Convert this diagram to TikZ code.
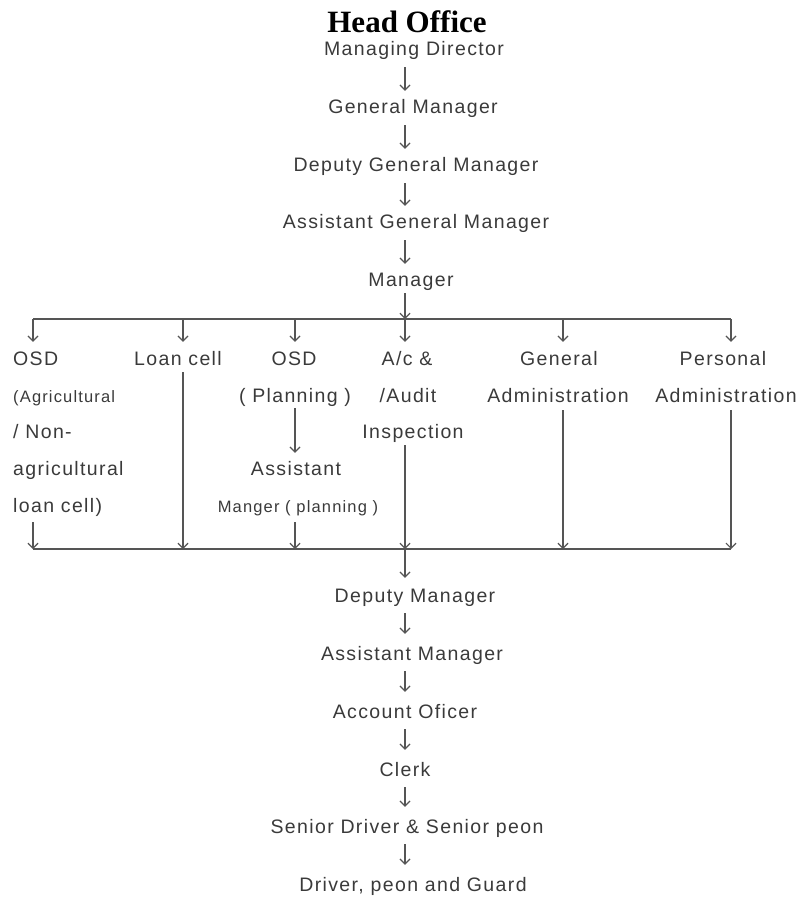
\documentclass[tikz,border=0pt]{standalone}
\usepackage{fontspec}
\usetikzlibrary{arrows.meta,calc}
\newfontfamily\orgfont[LetterSpace=7]{Liberation Sans}
\newfontfamily\headfont{Liberation Serif}
\definecolor{tc}{RGB}{58,58,58}
\definecolor{lc}{RGB}{85,85,85}
\tikzset{
  txt/.style={font=\orgfont\fontsize{19.5}{22}\selectfont, text=tc, inner sep=0pt, anchor=base, text height=14.5pt, text depth=4.5pt},
  smalltxt/.style={txt, font=\orgfont\fontsize{16.5}{19}\selectfont},
  ltxt/.style={txt, anchor=base west},
  lsmall/.style={smalltxt, anchor=base west},
  arr/.style={draw=lc, line width=1.2pt, -{Straight Barb[length=5pt,width=10pt,line width=1.2pt]}},
  bus/.style={draw=lc, line width=1.6pt},
  upar/.style={arr, shorten <=7.5pt, shorten >=7.5pt},
  loar/.style={arr, shorten <=6.5pt, shorten >=11.5pt}
}
\begin{document}
\begin{tikzpicture}[x=1pt,y=-1pt]
\useasboundingbox (0,0) rectangle (801,897);
\coordinate (sp) at (405,0);
% title
\node[inner sep=0pt, anchor=base, font=\headfont\bfseries\fontsize{31}{34}\selectfont] (head) at (407,32) {Head Office};
% upper chain
\node[txt] (md)  at (414,55)  {Managing Director};
\node[txt] (gm)  at (413,113) {General Manager};
\node[txt] (dgm) at (416,171) {Deputy General Manager};
\node[txt] (agm) at (416,228) {Assistant General Manager};
\node[txt] (mgr) at (411,286) {Manager};
\draw[upar] (md.south -| sp) -- (gm.north -| sp);
\draw[upar] (gm.south -| sp) -- (dgm.north -| sp);
\draw[upar] (dgm.south -| sp) -- (agm.north -| sp);
\draw[upar] (agm.south -| sp) -- (mgr.north -| sp);
% top bus
\coordinate (b1) at (33,319);
\coordinate (b2) at (183,319);
\coordinate (b3) at (295,319);
\coordinate (b4) at (405,319);
\coordinate (b5) at (563,319);
\coordinate (b6) at (731,319);
\draw[bus] (b1) -- (b6);
\draw[arr, shorten <=2.5pt] (mgr.south -| sp) -- (b4);
% departments
\node[ltxt]   (osd1) at (13,365) {OSD};
\node[lsmall] (ag)   at (13,402) {(Agricultural};
\node[ltxt]   (non)  at (13,438) {/ Non-};
\node[ltxt]   (agri) at (13,475) {agricultural};
\node[ltxt]   (lc1)  at (13,512) {loan cell)};
\node[txt] (loan) at (178,365) {Loan cell};
\node[txt] (osd2) at (294,365) {OSD};
\node[txt] (plan) at (295,402) {( Planning )};
\node[txt] (asst) at (296,475) {Assistant};
\node[smalltxt] (mgrp) at (298,512) {Manger ( planning )};
\node[txt] (ac1) at (407,365) {A/c \&};
\node[txt] (ac2) at (408,402) {/Audit};
\node[txt] (ac3) at (413,438) {Inspection};
\node[txt] (gen1) at (559,365) {General};
\node[txt] (gen2) at (558,402) {Administration};
\node[txt] (per1) at (723,365) {Personal};
\node[txt] (per2) at (726,402) {Administration};
% drops from top bus
\draw[arr, shorten >=8.5pt] (b1) -- (osd1.north -| b1);
\draw[arr, shorten >=8.5pt] (b2) -- (loan.north -| b2);
\draw[arr, shorten >=8.5pt] (b3) -- (osd2.north -| b3);
\draw[arr, shorten >=8.5pt] (b4) -- (ac1.north -| b4);
\draw[arr, shorten >=8.5pt] (b5) -- (gen1.north -| b5);
\draw[arr, shorten >=8.5pt] (b6) -- (per1.north -| b6);
\draw[arr, shorten <=1.5pt, shorten >=7.5pt] (plan.south -| b3) -- (asst.north -| b3);
% bottom bus
\coordinate (c1) at (33,549);
\coordinate (c2) at (183,549);
\coordinate (c3) at (295,549);
\coordinate (c4) at (405,549);
\coordinate (c5) at (563,549);
\coordinate (c6) at (731,549);
\draw[bus] (c1) -- (c6);
\draw[arr, shorten <=5.5pt] (lc1.south -| c1) -- (c1);
\draw[arr, shorten <=2.5pt] (loan.south -| c2) -- (c2);
\draw[arr, shorten <=5.5pt] (mgrp.south -| c3) -- (c3);
\draw[arr, shorten <=2.5pt] (ac3.south -| c4) -- (c4);
\draw[arr, shorten <=3.5pt] (gen2.south -| c5) -- (c5);
\draw[arr, shorten <=3.5pt] (per2.south -| c6) -- (c6);
% lower chain
\node[txt] (dm)    at (415,602) {Deputy Manager};
\node[txt] (am)    at (412,660) {Assistant Manager};
\node[txt] (ao)    at (405,718) {Account Oficer};
\node[txt] (clerk) at (405,776) {Clerk};
\node[txt] (sd)    at (407,833) {Senior Driver \& Senior peon};
\node[txt] (dpg)   at (413,891) {Driver, peon and Guard};
\draw[arr, shorten >=9.5pt] (c4) -- (dm.north -| sp);
\draw[loar] (dm.south -| sp) -- (am.north -| sp);
\draw[loar] (am.south -| sp) -- (ao.north -| sp);
\draw[loar] (ao.south -| sp) -- (clerk.north -| sp);
\draw[loar] (clerk.south -| sp) -- (sd.north -| sp);
\draw[loar] (sd.south -| sp) -- (dpg.north -| sp);
\end{tikzpicture}
\end{document}
